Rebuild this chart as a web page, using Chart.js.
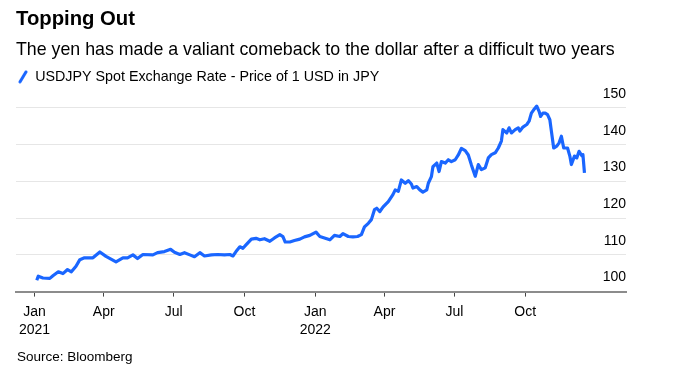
<!DOCTYPE html>
<html lang="en">
<head>
  <meta charset="UTF-8" />
  <title>Topping Out</title>
  <script src="https://cdn.jsdelivr.net/npm/chart.js"></script>
  <style>
    html, body { margin: 0; padding: 0; background: #fff; }
  </style>
</head>
<body>
  <canvas id="fxChart" width="674" height="384"></canvas>

  <script>
    // USDJPY spot
    const dates = [
      '2021-01-04','2021-01-06','2021-01-12','2021-01-21','2021-01-25','2021-02-01','2021-02-07','2021-02-13',
      '2021-02-18','2021-02-24','2021-03-01','2021-03-07','2021-03-18','2021-03-27','2021-04-04','2021-04-17',
      '2021-04-26','2021-05-02','2021-05-09','2021-05-15','2021-05-22','2021-06-04','2021-06-10','2021-06-19',
      '2021-06-27','2021-07-02','2021-07-09','2021-07-15','2021-07-22','2021-07-28','2021-08-04','2021-08-10',
      '2021-08-19','2021-08-27','2021-09-05','2021-09-12','2021-09-16','2021-09-20','2021-09-25','2021-09-29',
      '2021-10-03','2021-10-10','2021-10-16','2021-10-21','2021-10-27','2021-11-03','2021-11-09','2021-11-16',
      '2021-11-20','2021-11-23','2021-11-29','2021-12-05','2021-12-12','2021-12-18','2021-12-25',
      '2022-01-02','2022-01-07','2022-01-13','2022-01-20','2022-01-26','2022-02-02','2022-02-06','2022-02-13',
      '2022-02-19','2022-02-25','2022-03-02','2022-03-06','2022-03-11','2022-03-15','2022-03-19','2022-03-22',
      '2022-03-26','2022-03-30','2022-04-06','2022-04-12','2022-04-15','2022-04-19','2022-04-23','2022-04-28',
      '2022-05-02','2022-05-06','2022-05-08','2022-05-13','2022-05-17','2022-05-21','2022-05-26','2022-05-28',
      '2022-06-01','2022-06-03','2022-06-08','2022-06-11','2022-06-14','2022-06-19','2022-06-23','2022-06-27',
      '2022-07-02','2022-07-06','2022-07-10','2022-07-15','2022-07-19','2022-07-23','2022-07-28','2022-08-01',
      '2022-08-05','2022-08-10','2022-08-14','2022-08-18','2022-08-23','2022-08-27','2022-08-31','2022-09-02',
      '2022-09-07','2022-09-10','2022-09-13','2022-09-18','2022-09-22','2022-09-24','2022-09-28','2022-10-03',
      '2022-10-06','2022-10-09','2022-10-12','2022-10-16','2022-10-19','2022-10-21','2022-10-24','2022-10-27',
      '2022-10-30','2022-11-02','2022-11-04','2022-11-07','2022-11-11','2022-11-14','2022-11-17','2022-11-20',
      '2022-11-25','2022-11-28','2022-11-30','2022-12-04','2022-12-07','2022-12-10','2022-12-14','2022-12-15',
      '2022-12-17'
    ];
    const usdjpy = [
      103.1,104.2,103.7,103.6,104.3,105.4,104.9,106.0,
      105.4,106.9,108.7,109.2,109.2,110.8,109.6,108.1,
      109.2,109.2,110.0,109.0,110.1,110.0,110.6,110.9,
      111.5,110.7,110.1,110.6,110.0,109.5,110.6,109.7,
      110.0,110.1,110.0,110.1,109.7,110.9,112.2,111.8,
      112.7,114.3,114.5,114.1,114.4,113.7,114.6,115.5,
      115.0,113.5,113.5,113.9,114.3,114.9,115.3,
      116.2,115.0,114.6,114.1,115.3,115.0,115.8,115.0,
      114.9,115.0,115.5,117.6,118.6,119.6,122.3,122.7,
      121.8,123.0,124.5,126.4,127.7,127.3,130.4,129.5,
      130.2,129.3,128.2,128.6,127.7,127.1,127.7,129.5,
      131.3,134.0,135.0,132.7,135.4,135.0,135.9,135.4,
      135.9,137.2,139.0,138.4,137.2,134.5,131.4,134.6,
      133.2,133.7,136.4,137.3,137.8,139.1,141.0,144.1,
      143.2,144.6,143.2,144.1,144.6,143.7,144.8,145.5,
      146.4,148.6,149.5,150.5,149.1,147.7,148.6,148.6,
      148.2,146.8,143.7,139.1,139.6,140.5,142.3,139.1,
      139.1,136.9,134.6,136.9,136.4,138.2,136.9,137.3,
      132.3
    ];

    const tickDates = ['2021-01-01','2021-04-01','2021-07-01','2021-10-01','2022-01-01','2022-04-01','2022-07-01','2022-10-01'];
    const tickLabels = [['Jan','2021'],'Apr','Jul','Oct',['Jan','2022'],'Apr','Jul','Oct'];
    const yTicks = [100, 110, 120, 130, 140, 150];

    const BLUE = '#1a66ff';
    const FONT = "'Liberation Sans', Arial, sans-serif";

    // days since 1 Jan 2021, so a plain linear x axis can be used
    const origin = Date.UTC(2021, 0, 1);
    function dayOf(s) {
      const p = s.split('-').map(Number);
      return (Date.UTC(p[0], p[1] - 1, p[2]) - origin) / 86400000;
    }
    const tickDays = tickDates.map(dayOf);
    const points = dates.map((d, i) => ({ x: dayOf(d), y: usdjpy[i] }));

    // slanted line used as the legend marker
    const marker = document.createElement('canvas');
    marker.width = 10;
    marker.height = 14;
    const mctx = marker.getContext('2d');
    mctx.strokeStyle = BLUE;
    mctx.lineWidth = 3;
    mctx.lineCap = 'round';
    mctx.beginPath();
    mctx.moveTo(2, 12);
    mctx.lineTo(8, 2);
    mctx.stroke();

    const sourceNote = {
      id: 'sourceNote',
      afterDraw(chart) {
        const c = chart.ctx;
        c.save();
        c.font = '13.5px ' + FONT;
        c.fillStyle = '#000';
        c.textBaseline = 'middle';
        c.fillText('Source: Bloomberg', 17, 357);
        c.restore();
      }
    };

    new Chart(document.getElementById('fxChart'), {
      type: 'line',
      data: {
        datasets: [{
          label: 'USDJPY Spot Exchange Rate - Price of 1 USD in JPY',
          data: points,
          borderColor: BLUE,
          backgroundColor: BLUE,
          borderWidth: 3.2,
          borderJoinStyle: 'round',
          pointRadius: 0,
          pointStyle: marker,
          tension: 0,
          fill: false
        }]
      },
      options: {
        responsive: false,
        animation: false,
        layout: { padding: { left: 16, right: 48, top: 0, bottom: 39 } },
        plugins: {
          title: {
            display: true,
            text: 'Topping Out',
            align: 'start',
            color: '#000',
            font: { family: FONT, size: 20.3, weight: 'bold', lineHeight: 1.2 },
            padding: { top: 7, bottom: 4 }
          },
          subtitle: {
            display: true,
            text: 'The yen has made a valiant comeback to the dollar after a difficult two years',
            align: 'start',
            color: '#000',
            font: { family: FONT, size: 17.8, lineHeight: 1.2 },
            padding: { top: 4, bottom: 7 }
          },
          legend: {
            align: 'start',
            labels: {
              usePointStyle: true,
              pointStyleWidth: 10,
              padding: 2,
              color: '#000',
              font: { family: FONT, size: 14.3 }
            }
          },
          tooltip: { enabled: false }
        },
        scales: {
          x: {
            type: 'linear',
            min: -24,
            max: 769,
            afterBuildTicks: (scale) => { scale.ticks = tickDays.map(v => ({ value: v })); },
            grid: { drawOnChartArea: false, drawTicks: true, tickLength: 5, tickColor: '#444', tickWidth: 1 },
            border: { display: true, color: '#8c8c8c', width: 2 },
            ticks: {
              color: '#000',
              padding: 6,
              maxRotation: 0,
              autoSkip: false,
              font: { family: FONT, size: 14, lineHeight: 1.3 },
              callback: (value) => tickLabels[tickDays.indexOf(value)]
            }
          },
          y: {
            position: 'right',
            min: 100,
            max: 153.8,
            afterBuildTicks: (scale) => { scale.ticks = yTicks.map(v => ({ value: v })); },
            grid: { color: '#e6e6e6', lineWidth: 1, drawTicks: false },
            border: { display: false },
            ticks: {
              mirror: true,
              padding: 0,
              labelOffset: -14,
              color: '#000',
              font: { family: FONT, size: 14 }
            }
          }
        }
      },
      plugins: [sourceNote]
    });
  </script>
</body>
</html>
